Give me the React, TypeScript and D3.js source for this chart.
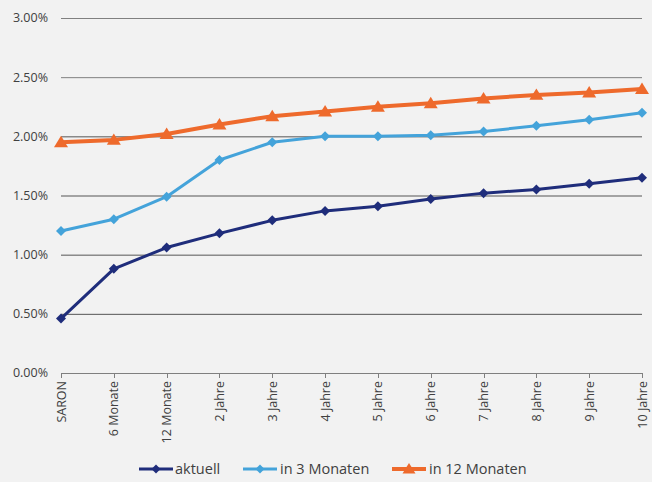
import React from "react";
import * as d3 from "d3";

const categories = ["SARON", "6 Monate", "12 Monate", "2 Jahre", "3 Jahre", "4 Jahre", "5 Jahre", "6 Jahre", "7 Jahre", "8 Jahre", "9 Jahre", "10 Jahre"];
const aktuell = [0.46, 0.88, 1.06, 1.18, 1.29, 1.37, 1.41, 1.47, 1.52, 1.55, 1.60, 1.65];
const in3Monaten = [1.20, 1.30, 1.49, 1.80, 1.95, 2.00, 2.00, 2.01, 2.04, 2.09, 2.14, 2.20];
const in12Monaten = [1.95, 1.97, 2.02, 2.10, 2.17, 2.21, 2.25, 2.28, 2.32, 2.35, 2.37, 2.40];
const yTicks = [0, 0.5, 1, 1.5, 2, 2.5, 3];
const seriesNames = ["aktuell", "in 3 Monaten", "in 12 Monaten"];

const W = 652, H = 482;
const FONT = "'Open Sans', 'DejaVu Sans', sans-serif";

export default function App() {
  const x = d3.scalePoint<string>().domain(categories).range([61, 642]);
  const y = d3.scaleLinear().domain([0, 3]).range([373, 18]);
  const series = [
    { name: seriesNames[0], values: aktuell, color: "#1f2d7b", width: 3, marker: "diamond", size: 10 },
    { name: seriesNames[1], values: in3Monaten, color: "#44a3da", width: 3, marker: "diamond", size: 10 },
    { name: seriesNames[2], values: in12Monaten, color: "#ee6a2c", width: 4, marker: "triangle", size: 11 },
  ];
  const line = d3.line<number>().x((_, i) => x(categories[i])!).y((d) => y(d));
  const markerPath = (type: string, s: number) => {
    const h = s / 2;
    if (type === "diamond") return `M0,${-h}L${h},0L0,${h}L${-h},0Z`;
    return `M0,${-h - 1}L${h + 1.5},${h * 0.9}L${-h - 1.5},${h * 0.9}Z`;
  };
  const legendItems = [
    { x0: 139, tx: 175 },
    { x0: 243, tx: 280 },
    { x0: 392, tx: 429 },
  ];
  return (
    <svg width={W} height={H} style={{ position: "absolute", left: 0, top: 0, background: "#f2f2f2" }} fontFamily={FONT}>
      <rect x={0} y={0} width={W} height={H} fill="#f2f2f2" />
      {yTicks.map((t) => (
        <g key={t}>
          {t > 0 && <line x1={61} x2={642} y1={y(t) + 0.5} y2={y(t) + 0.5} stroke={t >= 2.5 ? "#808080" : "#555"} strokeWidth={1} />}
          <text x={48} y={y(t)} dy="0.35em" textAnchor="end" fontSize={12.5} fill="#404040">
            {t.toFixed(2) + "%"}
          </text>
        </g>
      ))}
      <line x1={61} x2={642} y1={373.5} y2={373.5} stroke="#7f7f7f" strokeWidth={1} />
      {categories.map((c) => (
        <g key={c}>
          <line x1={Math.round(x(c)!) + 0.5} x2={Math.round(x(c)!) + 0.5} y1={373} y2={378} stroke="#7f7f7f" />
          <text transform={`translate(${x(c)! + 4.5},381) rotate(-90)`} textAnchor="end" fontSize={12.5} fill="#404040">
            {c}
          </text>
        </g>
      ))}
      {series.map((s) => (
        <g key={s.name}>
          <path d={line(s.values)!} fill="none" stroke={s.color} strokeWidth={s.width} strokeLinejoin="round" />
          {s.values.map((v, i) => (
            <path key={i} transform={`translate(${x(categories[i])},${y(v)})`} d={markerPath(s.marker, s.size)} fill={s.color} />
          ))}
        </g>
      ))}
      {series.map((s, i) => (
        <g key={"lg" + s.name}>
          <line x1={legendItems[i].x0} x2={legendItems[i].x0 + 34} y1={469} y2={469} stroke={s.color} strokeWidth={s.width} />
          <path transform={`translate(${legendItems[i].x0 + 17},469)`} d={markerPath(s.marker, s.size - 1)} fill={s.color} />
          <text x={legendItems[i].tx} y={469} dy="0.35em" fontSize={14.5} fill="#404040">
            {s.name}
          </text>
        </g>
      ))}
    </svg>
  );
}
